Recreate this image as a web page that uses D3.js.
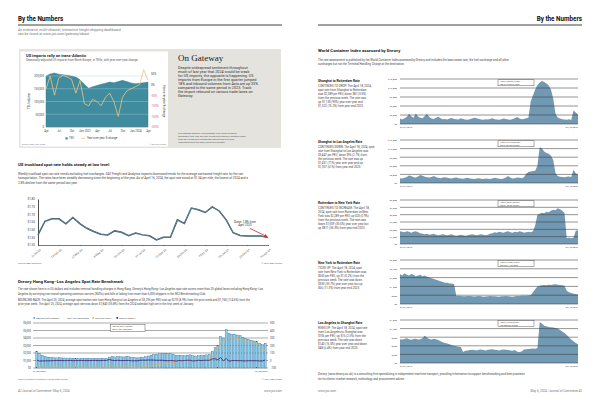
<!DOCTYPE html>
<html>
<head>
<meta charset="utf-8">
<script src="https://cdn.jsdelivr.net/npm/d3@7"></script>
<style>
  body { margin: 0; background: #fff; }
  svg { display: block; font-family: Roboto, "Liberation Sans", sans-serif; }
</style>
</head>
<body>
<svg width="600" height="407"></svg>
<script>
// ---- data ----

// Gateway chart: monthly TEU + yoy %
var gwMonths = ["2022-04","2022-05","2022-06","2022-07","2022-08","2022-09","2022-10","2022-11","2022-12",
  "2023-01","2023-02","2023-03","2023-04","2023-05","2023-06","2023-07","2023-08","2023-09","2023-10",
  "2023-11","2023-12","2024-01","2024-02","2024-03","2024-04"];
var gwTeu = [200000,208000,212000,207000,205000,203000,200000,196000,185000,168000,152000,158000,163000,
  168000,172000,176000,174000,178000,183000,178000,173000,170000,172000,174000,176000];
var gwYoy = [-20,40,-50,30,45,35,25,-40,20,-90,-100,-70,-80,-100,-60,-40,-80,-150,-60,-30,-20,-10,0,70,20];
var gwTickLabels = ["Apr","Jul","Oct","Jan 2023","Apr","Jul","Oct","Jan 2024","Apr"];
var gwLeftTicks = [0, 50000, 100000, 150000, 200000];
var gwRightTicks = [50, 0, -50, -100, -150, -200];

// Truckload spot rate
var truckDates = ["2-Jan-23","16-Jan-23","30-Jan-23","13-Feb-23","27-Feb-23","13-Mar-23","27-Mar-23","10-Apr-23",
  "24-Apr-23","8-May-23","22-May-23","5-Jun-23","19-Jun-23","3-Jul-23","17-Jul-23","31-Jul-23","14-Aug-23",
  "28-Aug-23","11-Sep-23","25-Sep-23","9-Oct-23","23-Oct-23","6-Nov-23","20-Nov-23","4-Dec-23","18-Dec-23",
  "1-Jan-24","15-Jan-24","29-Jan-24","12-Feb-24","26-Feb-24","11-Mar-24","25-Mar-24","16-Apr-24"];
var truckRates = [1.566,1.655,1.671,1.671,1.638,1.680,1.640,1.609,1.588,1.570,1.566,1.592,1.583,1.561,1.578,
  1.566,1.560,1.533,1.550,1.550,1.664,1.640,1.741,1.730,1.712,1.748,1.722,1.664,1.580,1.562,1.559,1.559,1.559,1.548];
var truckTicks = [1.50, 1.55, 1.60, 1.65, 1.70, 1.75, 1.80];

// Drewry Hong Kong - Los Angeles weekly
var drewryRate = [2200,1900,1700,1550,1450,1400,1380,1350,1360,1340,1330,1320,1330,1310,1300,1290,1300,1280,
  1270,1260,1270,1280,1260,1250,1260,1270,1450,1500,1480,1520,1500,1480,1500,1510,1450,1400,1350,1380,1450,
  1500,1600,1700,1800,1850,1900,1950,1950,1900,1900,1850,1700,1700,1650,1650,1700,1750,1650,1600,1650,1650,
  1700,1750,1800,2200,2700,3000,4200,4000,5100,4600,4500,4500,4400,4300,4100,3900,3800,3700,3600,3500,3300,3100,3300];
var drewryYoy = [-88,-90,-89,-90,-91,-90,-89,-90,-90,-91,-90,-89,-90,-90,-91,-90,-90,-89,-90,-90,-91,-90,-90,
  -89,-90,-90,-88,-88,-89,-88,-88,-89,-88,-88,-89,-90,-90,-89,-88,-87,-80,-70,-60,-55,-50,-45,-40,-35,-30,-25,
  -20,-15,-10,-5,0,5,5,10,10,12,15,15,20,40,100,150,220,260,300,310,300,300,290,280,270,260,250,240,230,220,210,170,120];
var drewryWow = [5,-8,-6,-5,-4,-3,-2,-1,1,-1,-2,-1,1,-2,-1,-1,1,-2,-1,-1,1,1,-2,-1,1,1,14,3,-1,3,-1,-1,1,1,-4,
  -3,-4,2,5,3,7,6,6,3,3,3,0,-3,0,-3,-8,0,-3,0,3,3,-6,-3,3,0,3,3,3,22,23,11,40,-5,28,-10,-2,0,-2,-2,-5,-5,-3,-3,-3,-3,-6,-6,6];
var drewryDates = ["01/06/2022", "04/25/2024"];
var drewryLeftTicks = [0,1000,2000,3000,4000,5000,6000];
var drewryRightTicks = [-100,0,100,200,300,400,500];

// World Container Index lanes (weekly, $ per 40ft)
var wciShaRot = [1800,1500,1900,2300,3400,2600,2100,3500,2500,2100,1900,2700,3300,2300,1800,1700,2100,2400,1900,
  1600,1700,1500,1800,2000,1700,1600,1500,1900,1700,1500,1400,1600,1800,2100,1900,1700,1500,1400,1600,1500,1700,
  1900,1600,1500,1400,1600,1800,1700,1500,1400,1700,1900,2300,1800,1600,1700,1900,2100,7500,9500,11500,13000,
  13800,14300,14000,13500,12800,11500,8500,3500,2200,1800,1600,1500,1400,1600,1300,4500,3800,3200];
var wciShaLa = [1700,1600,1800,2100,2600,2400,2000,1900,2300,2800,2500,2200,2000,1900,2100,2400,2000,1800,1700,1900,
  2000,1800,1700,1600,1800,1900,1700,1600,1500,1700,1800,1600,1500,1400,1600,1700,1500,1400,1600,1500,1400,1600,
  1800,1700,1500,1400,1600,1900,2400,1800,1600,1700,1900,1800,1700,2000,3200,3800,4000,4200,4300,6000,12500,12000,
  11000,10500,10200,9500,8000,3500,2400,2200,2100,2000,2200,2300,2100,4600,3400,3000];
var wciRotNy = [2600,2500,2400,2600,2500,2300,2500,2600,2400,2200,2100,2000,2100,1900,2000,2100,1900,1800,1900,2000,
  1900,1800,1900,2000,1800,1700,1800,1900,1800,1700,1800,1900,2000,1900,1800,1900,2000,1900,1800,1900,2100,2200,
  2400,2300,2500,2400,2300,2500,2600,2400,2300,2500,2400,2600,2500,2300,2400,2500,2400,2600,3800,6000,6200,6400,
  6300,6600,6500,6800,7000,6900,7300,7100,6800,6400,1200,1300,1200,1300,2700,2800];
var wciNyRot = [2050,1950,2100,2000,1950,2050,2000,1900,1950,2000,1900,1950,1850,1800,1750,1700,1650,1600,1550,1500,
  1450,1450,1400,1400,1350,550,560,540,520,530,550,540,520,510,530,540,520,500,510,520,540,530,520,510,500,520,530,
  540,520,510,500,520,540,550,560,570,560,580,600,800,1000,1200,1250,1280,1300,1280,1320,1300,1330,1350,1320,1300,
  1280,1250,900,800,750,700,680,650];
var wciLaSha = [830,820,840,860,830,810,840,850,820,830,860,950,880,840,820,850,830,800,760,720,700,680,650,620,600,
  580,570,560,380,430,440,450,460,450,440,460,470,450,440,460,470,480,460,450,440,460,470,460,450,440,430,450,390,
  380,400,470,480,490,500,510,500,520,1420,1380,1300,1280,1260,1250,1240,1220,1200,1150,1100,1050,980,900,820,760,700,650];
var wciDates = ["04/21/2016", "04/18/2024"];

var svg = d3.select("svg");
svg.append("rect").attr("width", 600).attr("height", 407).attr("fill", "#fff");

// small helper for blocks of text
function textLines(x, y, step, arr, size, opt) {
    opt = opt || {};
    var g = svg.append("g");
    arr.forEach(function (s, i) {
        g.append("text")
            .attr("x", x).attr("y", y + i * step)
            .attr("font-size", size)
            .attr("fill", opt.color || "#333")
            .attr("font-weight", opt.bold ? "bold" : null)
            .attr("text-anchor", opt.anchor || "start")
            .attr("font-family", opt.family || null)
            .text(s);
    });
    return g;
}

// ---- page headers ----
textLines(18, 21, 0, ["By the Numbers"], 6.3, { bold: true, color: "#111" });
svg.append("line").attr("x1", 18).attr("x2", 282).attr("y1", 25).attr("y2", 25).attr("stroke", "#111").attr("stroke-width", 0.8);
textLines(18, 30.5, 4.3, ["An extensive, multi-channel, interactive freight shipping dashboard",
    "can be found at www.joc.com/gateway/about."], 3.5, { color: "#777" });

textLines(582, 21, 0, ["By the Numbers"], 6.3, { bold: true, color: "#111", anchor: "end" });
svg.append("line").attr("x1", 318).attr("x2", 582).attr("y1", 25).attr("y2", 25).attr("stroke", "#111").attr("stroke-width", 0.8);

// ---- Gateway panel ----
svg.append("rect").attr("x", 19).attr("y", 49).attr("width", 262).attr("height", 99).attr("fill", "#e4e3de");
svg.append("rect").attr("x", 20.5).attr("y", 51.5).attr("width", 147.5).attr("height", 95).attr("fill", "#fff");

textLines(26, 57, 0, ["US imports rally on trans-Atlantic"], 4, { bold: true, color: "#222" });
textLines(26, 61.3, 0, ["Seasonally-adjusted US imports from North Europe, in TEUs, with year-over-year change"], 2.9, { color: "#555" });

var parseMonth = d3.timeParse("%Y-%m");
var gwData = gwMonths.map(function (m, i) { return { date: parseMonth(m), teu: gwTeu[i], yoy: gwYoy[i] }; });

var gx = d3.scaleTime().domain(d3.extent(gwData, (d) => d.date)).range([46, 148]);
var gyL = d3.scaleLinear().domain([0, 200000]).range([127, 76]);
var gyR = d3.scaleLinear().domain([-200, 50]).range([127, 74]);

svg.append("path")
    .datum(gwData)
    .attr("fill", "#3f8c9f")
    .attr("stroke", "#2f7386")
    .attr("stroke-width", 0.4)
    .attr("d", d3.area().x((d) => gx(d.date)).y0(gyL(0)).y1((d) => gyL(d.teu)));

gwLeftTicks.forEach(function (t) {
    svg.append("line").attr("x1", 46).attr("x2", 148).attr("y1", gyL(t)).attr("y2", gyL(t))
        .attr("stroke", t === 0 ? "#888" : "#a9d0d9").attr("stroke-width", 0.4);
});

svg.append("path")
    .datum(gwData)
    .attr("fill", "none")
    .attr("stroke", "#efc47c")
    .attr("stroke-width", 0.8)
    .attr("d", d3.line().x((d) => gx(d.date)).y((d) => gyR(d.yoy)));

var gLeft = svg.append("g").attr("transform", "translate(46,0)")
    .call(d3.axisLeft(gyL).tickValues(gwLeftTicks).tickSize(0).tickPadding(2).tickFormat(d3.format(",")));
gLeft.select(".domain").remove();
gLeft.selectAll("text").attr("font-size", 2.8).attr("fill", "#444").attr("font-family", "Roboto, sans-serif");

var gRight = svg.append("g").attr("transform", "translate(149,0)")
    .call(d3.axisRight(gyR).tickValues(gwRightTicks).tickSize(0).tickPadding(2).tickFormat((d) => d + "%"));
gRight.select(".domain").remove();
gRight.selectAll("text").attr("font-size", 2.8).attr("font-family", "Roboto, sans-serif")
    .attr("fill", (d) => d < 0 ? "#e0607a" : "#444");

var gBottom = svg.append("g").attr("transform", "translate(0,127)")
    .call(d3.axisBottom(gx).ticks(d3.timeMonth.every(3)).tickSize(0).tickPadding(3)
        .tickFormat((d, i) => gwTickLabels[i]));
gBottom.select(".domain").remove();
gBottom.selectAll("text").attr("font-size", 2.8).attr("fill", "#444").attr("font-family", "Roboto, sans-serif");

svg.append("text").attr("transform", "translate(30,101) rotate(-90)").attr("text-anchor", "middle")
    .attr("font-size", 3).attr("fill", "#333").text("TEU volume");
svg.append("text").attr("transform", "translate(163,101) rotate(90)").attr("text-anchor", "middle")
    .attr("font-size", 3).attr("fill", "#333").text("Year-over-year % change");

// legend
svg.append("rect").attr("x", 65.5).attr("y", 137.3).attr("width", 2.2).attr("height", 2.2).attr("fill", "#3f8c9f");
textLines(69, 139.4, 0, ["TEU"], 2.8, { color: "#444" });
svg.append("line").attr("x1", 81).attr("x2", 85).attr("y1", 138.4).attr("y2", 138.4).attr("stroke", "#efc47c").attr("stroke-width", 0.8);
textLines(87, 139.4, 0, ["Year-over-year % change"], 2.8, { color: "#444" });
textLines(22, 145, 0, ["Source: PIERS, S&P Global"], 2, { color: "#777" });
textLines(166, 145, 0, ["\u00a9 2024 S&P Global"], 2, { color: "#777", anchor: "end" });

// On Gateway side text
textLines(178, 61, 0, ["On Gateway"], 9, { color: "#222", family: "'Liberation Serif', 'DejaVu Serif', serif" });
textLines(178, 69.4, 4, [
    "Despite widespread sentiment throughout",
    "much of last year that 2024 would be weak",
    "for US imports, the opposite is happening. US",
    "imports from Europe in the first quarter jumped",
    "18% and inbound volumes from Asia are up 33%",
    "compared to the same period in 2023. Track",
    "the import rebound on various trade lanes on",
    "Gateway."], 3.75, { color: "#333" });
textLines(178, 134.3, 2.8, [
    "The Gateway www.joc.com/gateway is an online shipping",
    "dashboard from JOC and S&P Global with regularly updated charts",
    "from S&P Global and chartbooks that provide a concise",
    "understanding of the data, trends and insights."], 2.3, { color: "#555" });

// ---- Truckload spot rate ----
textLines(18, 166.3, 0, ["US truckload spot rate holds steady at low level"], 4.3, { bold: true, color: "#222" });
textLines(18, 175, 4.3, [
    "Weekly truckload spot van rate trends excluding fuel surcharges. DAT Freight and Analytics expects downward trends for the average contracted freight rate for the van",
    "transportation. The rates have been steadily decreasing since the beginning of the year. As of April 16, 2024, the spot rate stood at $1.54 per mile, the lowest of 2024 and a",
    "2.8% decline from the same period last year."], 3.05, { color: "#444" });

var tx = d3.scalePoint().domain(truckDates).range([38, 268]);
var ty = d3.scaleLinear().domain([1.5, 1.8]).range([245, 199]);

var tLeft = svg.append("g").attr("transform", "translate(38,0)")
    .call(d3.axisLeft(ty).tickValues(truckTicks).tickSize(0).tickPadding(3).tickFormat(d3.format("$.2f")));
tLeft.select(".domain").attr("stroke", "#222").attr("stroke-width", 0.8);
tLeft.selectAll("text").attr("font-size", 3).attr("fill", "#444").attr("font-family", "Roboto, sans-serif");

var tBottom = svg.append("g").attr("transform", "translate(0,245)")
    .call(d3.axisBottom(tx).tickValues(truckDates.filter((d, i) => i % 3 === 0 || i === truckDates.length - 1)).tickSize(1));
tBottom.select(".domain").attr("stroke", "#222").attr("stroke-width", 0.6);
tBottom.selectAll("line").attr("stroke", "#222").attr("stroke-width", 0.4);
tBottom.selectAll("text").attr("font-size", 2.9).attr("fill", "#555").attr("font-family", "Roboto, sans-serif")
    .attr("text-anchor", "end").attr("transform", "translate(-1,1) rotate(-40)").attr("dy", "0.5em");

var truckLine = d3.line().x((d, i) => tx(truckDates[i])).y((d) => ty(d));
svg.append("path").datum(truckRates).attr("fill", "none").attr("stroke", "#2e4c60").attr("stroke-width", 1.5).attr("d", truckLine);
svg.append("path").datum(truckRates).attr("fill", "none").attr("stroke", "#8db2c6").attr("stroke-width", 0.5).attr("d", truckLine);

textLines(245, 222.6, 3.6, ["Down 1.8% from", "April 2023"], 3, { color: "#333", anchor: "middle" });
svg.append("defs").append("marker").attr("id", "arr").attr("viewBox", "0 0 10 10").attr("refX", 8).attr("refY", 5)
    .attr("markerWidth", 4).attr("markerHeight", 4).attr("orient", "auto")
    .append("path").attr("d", "M0,0L10,5L0,10z").attr("fill", "#d7261e");
svg.append("line").attr("x1", 250).attr("y1", 228.5)
    .attr("x2", tx(truckDates[truckDates.length - 1]) - 1).attr("y2", ty(truckRates[truckRates.length - 1]) - 1)
    .attr("stroke", "#d7261e").attr("stroke-width", 0.8).attr("marker-end", "url(#arr)");

textLines(18, 264.3, 0, ["Source: DAT Solutions"], 2.4, { color: "#666" });
textLines(282, 264.3, 0, ["\u00a9 2024 DAT Freight"], 2.4, { color: "#666", anchor: "end" });

// ---- Drewry Hong Kong - Los Angeles ----
textLines(18, 282.6, 0, ["Drewry Hong Kong\u2013Los Angeles Spot Rate Benchmark"], 4.3, { bold: true, color: "#222" });
textLines(18, 290.4, 4.2, [
    "The rate shown here is in US dollars and includes terminal handling charges in Hong Kong. Drewry's Hong Kong\u2013Los Angeles spot rate covers more than 20 global lanes including Hong Kong\u2013Los",
    "Angeles by surveying non-vessel operating common carriers (NVOs) and bills of lading from more than 6,000 shippers in the WCI Benchmarking Club."], 2.85, { color: "#444" });
textLines(18, 300.8, 4.2, [
    "BOUNCING BACK: The April 25, 2024, average spot market rate from Hong Kong to Los Angeles of $3,296 per FEU was up $270 (8.9%) from the prior week and $1,760 (114.6%) from the",
    "prior-year week. The April 25, 2024, average spot rate was down $1,840 (35.8%) from the 2024 calendar high set in the first week of January."], 2.85, { color: "#444" });

// legend
var dLegend = [
    { label: "Rate per 40ft container", color: "#4fa9d6", x: 36 },
    { label: "2024 WCI benchmark", color: null, x: 67 },
    { label: "Year-over-year %", color: "#e2b05d", x: 95 },
    { label: "Week-to-week %", color: "#40306e", x: 119 }];
dLegend.forEach(function (d) {
    if (d.color) svg.append("rect").attr("x", d.x - 2.6).attr("y", 317.1).attr("width", 1.7).attr("height", 1.7).attr("fill", d.color);
    textLines(d.x, 318.6, 0, [d.label], 2.3, { color: "#444" });
});

var dx = d3.scaleBand().domain(d3.range(drewryRate.length)).range([35, 267]).padding(0.3);
var dyL = d3.scaleLinear().domain([0, 6000]).range([368, 323]);
var dyR = d3.scaleLinear().domain([-100, 500]).range([368, 323]);

drewryLeftTicks.forEach(function (t) {
    svg.append("line").attr("x1", 33).attr("x2", 268).attr("y1", dyL(t)).attr("y2", dyL(t))
        .attr("stroke", "#555").attr("stroke-width", 0.5);
});

svg.append("g").selectAll("rect").data(drewryRate).enter().append("rect")
    .attr("x", (d, i) => dx(i))
    .attr("y", (d) => dyL(d))
    .attr("width", dx.bandwidth())
    .attr("height", (d) => dyL(0) - dyL(d))
    .attr("fill", "#8fd3ee")
    .attr("stroke", "#1f5d92")
    .attr("stroke-width", 0.35);

var dCenter = (i) => dx(i) + dx.bandwidth() / 2;
svg.append("path").datum(drewryYoy).attr("fill", "none").attr("stroke", "#e2b05d").attr("stroke-width", 0.8)
    .attr("d", d3.line().x((d, i) => dCenter(i)).y((d) => dyR(d)));
svg.append("path").datum(drewryWow).attr("fill", "none").attr("stroke", "#4b2e84").attr("stroke-width", 0.9)
    .attr("d", d3.line().x((d, i) => dCenter(i)).y((d) => dyR(d)));

var dL = svg.append("g").attr("transform", "translate(32,0)")
    .call(d3.axisLeft(dyL).tickValues(drewryLeftTicks).tickSize(0).tickPadding(1).tickFormat(d3.format("$,")));
dL.select(".domain").remove();
dL.selectAll("text").attr("font-size", 2.6).attr("fill", "#444").attr("font-family", "Roboto, sans-serif");
var dR = svg.append("g").attr("transform", "translate(269,0)")
    .call(d3.axisRight(dyR).tickValues(drewryRightTicks).tickSize(0).tickPadding(1));
dR.select(".domain").remove();
dR.selectAll("text").attr("font-size", 2.6).attr("fill", "#444").attr("font-family", "Roboto, sans-serif");

textLines(33, 372.3, 0, [drewryDates[0]], 2.4, { color: "#444" });
textLines(268, 372.3, 0, [drewryDates[1]], 2.4, { color: "#444", anchor: "end" });

svg.append("rect").attr("x", 110.5).attr("y", 324.3).attr("width", 34.5).attr("height", 7.5)
    .attr("fill", "#fff").attr("stroke", "#333").attr("stroke-width", 0.4);
textLines(112, 327.3, 3, ["High   $5,136    01/18/2024", "Low    $1,250    10/05/2023"], 1.9, { color: "#333" });

textLines(18, 379.5, 0, ["Source: Drewry's Container Freight Rate Insight"], 2.4, { color: "#666" });
textLines(282, 379.5, 0, ["\u00a9 2024 DAT Global"], 2.4, { color: "#666", anchor: "end" });

// ---- World Container Index (right page) ----
textLines(318, 52.3, 0, ["World Container Index assessed by Drewry"], 4.3, { bold: true, color: "#222" });
textLines(318, 60.6, 4.2, [
    "The rate assessment is published by the World Container Index assessed by Drewry and includes the base ocean rate, the fuel surcharge and all other",
    "surcharges but not the Terminal Handling Charge at the destination."], 2.9, { color: "#444" });

var wciCharts = [
    { values: wciShaRot, max: 15000, step: 3000, top: 79, bottom: 124, box: ["High  $14,390   09/16/2021", "Low   $1,315   02/27/2020"],
      title: "Shanghai to Rotterdam Rate", tY: 82,
      text: ["CONTINUES TO DROP: The April 18, 2024,", "spot rate from Shanghai to Rotterdam", "was $2,389 per FEU, down $87 (3.5%)",
             "from the previous week. The rate was", "up $1,130 (90%) year over year and", "$1,322 (76.2%) from year end 2023."] },
    { values: wciShaLa, max: 15000, step: 3000, top: 140, bottom: 183, box: ["High  $12,424   09/09/2021", "Low   $1,304   03/26/2020"],
      title: "Shanghai to Los Angeles Rate", tY: 143,
      text: ["CONTINUES DOWN: The April 18, 2024, spot", "rate from Shanghai to Los Angeles was", "$3,447 per FEU, down $96 (2.7%) from",
             "the previous week. The rate was up", "$1,431 (71%) year over year and up", "$1,307 (61%) from year end 2023."] },
    { values: wciRotNy, max: 9000, step: 1500, top: 200, bottom: 244, box: ["High  $7,400   01/20/2022", "Low   $1,469   02/15/2024"],
      title: "Rotterdam to New York Rate", tY: 203.5,
      text: ["CONTINUES TO INCREASE: The April 18,", "2024, spot rate from Rotterdam to New", "York was $2,289 per FEU, up $20 (0.9%)",
             "from the previous week. The rate was", "down $1,009 (30.6%) year over year but", "up $811 (55.3%) from year end 2023."] },
    { values: wciNyRot, max: 3000, step: 600, top: 260, bottom: 304, box: ["High  $2,140   05/19/2016", "Low   $497   11/02/2023"],
      title: "New York to Rotterdam Rate", tY: 263.5,
      text: ["TICKS UP: The April 18, 2024, spot", "rate from New York to Rotterdam was", "$650 per FEU, up $1 (0.2%) from the",
             "previous week. The rate was down", "$330 (33.7%) year over year but up", "$66 (11.3%) from year end 2023."] },
    { values: wciLaSha, max: 1500, step: 300, top: 320, bottom: 363, box: ["High  $1,478   09/30/2021", "Low   $380   05/13/2020"],
      title: "Los Angeles to Shanghai Rate", tY: 324.3,
      text: ["RISES UP: The April 18, 2024, spot rate", "from Los Angeles to Shanghai was", "$706 per FEU, up $16 (2.3%) from the",
             "previous week. The rate was down", "$140 (16.5%) year over year and down", "$48 (6.4%) from year end 2023."] }
];

wciCharts.forEach(function (c) {
    textLines(318, c.tY, 0, [c.title], 3.3, { bold: true, color: "#222" });
    textLines(318, c.tY + 5, 4, c.text, 2.9, { color: "#444" });

    var x = d3.scaleLinear().domain([0, c.values.length - 1]).range([400, 578]);
    var y = d3.scaleLinear().domain([0, c.max]).range([c.bottom, c.top]);

    svg.append("path").datum(c.values)
        .attr("fill", "#7199b3")
        .attr("d", d3.area().x((d, i) => x(i)).y0(y(0)).y1((d) => y(d)));

    var ticks = d3.range(0, c.max + 1, c.step);
    ticks.forEach(function (t) {
        svg.append("line").attr("x1", 400).attr("x2", 578).attr("y1", y(t)).attr("y2", y(t))
            .attr("stroke", "#3a3a3a").attr("stroke-width", 0.55);
    });
    var ax = svg.append("g").attr("transform", "translate(398,0)")
        .call(d3.axisLeft(y).tickValues(ticks).tickSize(0).tickPadding(1).tickFormat(d3.format("$,")));
    ax.select(".domain").remove();
    ax.selectAll("text").attr("font-size", 2.5).attr("fill", "#444").attr("font-family", "Roboto, sans-serif");

    textLines(400, c.bottom + 3.6, 0, [wciDates[0]], 2.3, { color: "#444" });
    textLines(578, c.bottom + 3.6, 0, [wciDates[1]], 2.3, { color: "#444", anchor: "end" });

    svg.append("rect").attr("x", 498).attr("y", c.top + 0.8).attr("width", 36).attr("height", 6)
        .attr("fill", "#fff").attr("stroke", "#333").attr("stroke-width", 0.4);
    textLines(500, c.top + 3.3, 2.5, c.box, 1.8, { color: "#333" });
});

textLines(318, 374.5, 5, [
    "Drewry (www.drewry.co.uk) is a consulting firm specializing in independent maritime transport, providing information to support benchmarking and best practices",
    "for its clients: market research, technology and procurement advice."], 2.9, { color: "#444" });

// ---- footers ----
textLines(18, 391.5, 0, ["42   Journal of Commerce  |  May 6, 2024"], 3, { color: "#777" });
textLines(282, 391.5, 0, ["www.joc.com"], 3, { color: "#777", anchor: "end" });
textLines(318, 391.5, 0, ["www.joc.com"], 3, { color: "#777" });
textLines(582, 391.5, 0, ["May 6, 2024  |  Journal of Commerce   43"], 3, { color: "#777", anchor: "end" });
</script>
</body>
</html>
